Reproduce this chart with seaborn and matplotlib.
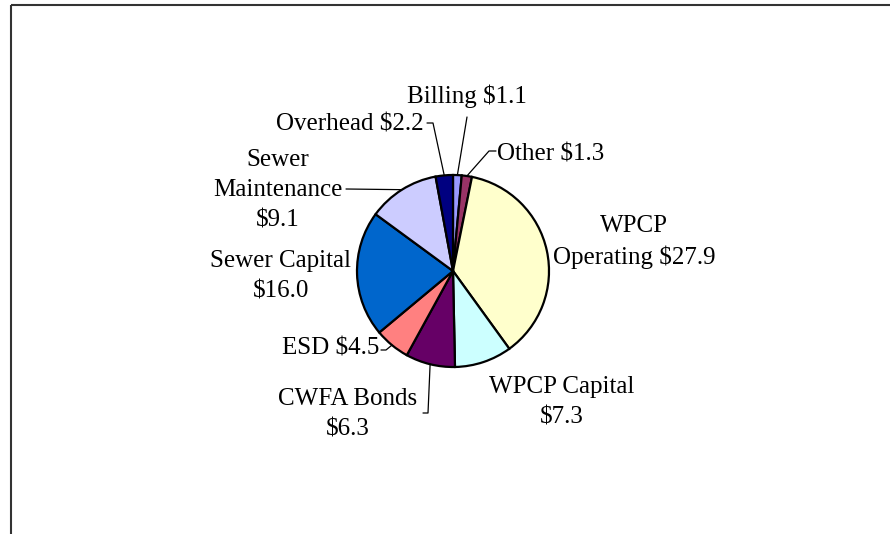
import numpy as np
import matplotlib
matplotlib.use("Agg")
import matplotlib.pyplot as plt
import seaborn as sns
from matplotlib.patches import Rectangle

# 데이터 (12시 방향에서 시계방향)
categories = ['Billing', 'Other', 'WPCP Operating', 'WPCP Capital', 'CWFA Bonds',
              'ESD', 'Sewer Capital', 'Sewer Maintenance', 'Overhead']
values = [1.1, 1.3, 27.9, 7.3, 6.3, 4.5, 16.0, 9.1, 2.2]
labels = ['Billing $1.1', 'Other $1.3', 'WPCP\nOperating $27.9', 'WPCP Capital\n$7.3',
          'CWFA Bonds\n$6.3', 'ESD $4.5', 'Sewer Capital\n$16.0',
          'Sewer\nMaintenance\n$9.1', 'Overhead $2.2']
colors = ['#9999FF', '#993366', '#FFFFCC', '#CCFFFF', '#660066',
          '#FF8080', '#0066CC', '#CCCCFF', '#000080']

sns.set_style('white')
plt.rcParams['font.family'] = ['Liberation Serif', 'DejaVu Serif']

W, H = 890, 534
fig = plt.figure(figsize=(W / 100, H / 100), dpi=100)
ax = fig.add_axes([0, 0, 1, 1])

# 테두리 (오른쪽/아래는 그림 밖으로)
ax.add_patch(Rectangle((11, 5), 1200, 1000, fill=False, edgecolor='#333333', lw=1.5))

cx, cy, r = 453, 271, 96
# y축이 뒤집혀 있으므로 counterclock=True 가 화면상 시계방향
wedges, _ = ax.pie(values, colors=colors, startangle=-90, counterclock=True,
                   center=(cx, cy), radius=r, frame=True,
                   wedgeprops=dict(edgecolor='black', linewidth=1.6))
ax.set_xlim(0, W)
ax.set_ylim(H, 0)
ax.axis('off')

# 라벨 위치 (텍스트 좌표, 정렬, 지시선 꺾임점들)
layout = {
    'Billing': ((467, 96), 'center', [(467, 117)]),
    'Other': ((497, 154), 'left', [(489, 151), (496, 151)]),
    'WPCP Operating': ((634, 242), 'center', None),
    'WPCP Capital': ((562, 402), 'center', None),
    'CWFA Bonds': ((348, 414), 'center', [(428, 413), (423, 413)]),
    'ESD': ((379, 349), 'right', [(386, 350), (381, 350)]),
    'Sewer Capital': ((281, 276), 'center', None),
    'Sewer Maintenance': ((278, 190), 'center', [(346, 189)]),
    'Overhead': ((424, 125), 'right', [(433, 123), (427, 123)]),
}

total = sum(values)
cum = np.cumsum([0] + values)
for i, name in enumerate(categories):
    (tx, ty), ha, pts = layout[name]
    ax.text(tx, ty, labels[i], ha=ha, va='center', fontsize=18,
            multialignment='center', linespacing=1.5, color='black')
    if pts:
        mid = (cum[i] + values[i] / 2) / total * 2 * np.pi
        ax_pt = (cx + r * np.sin(mid), cy - r * np.cos(mid))
        xs = [ax_pt[0]] + [p[0] for p in pts]
        ys = [ax_pt[1]] + [p[1] for p in pts]
        ax.plot(xs, ys, color='black', lw=0.9)

fig.savefig('out.png', dpi=100, facecolor='white')
